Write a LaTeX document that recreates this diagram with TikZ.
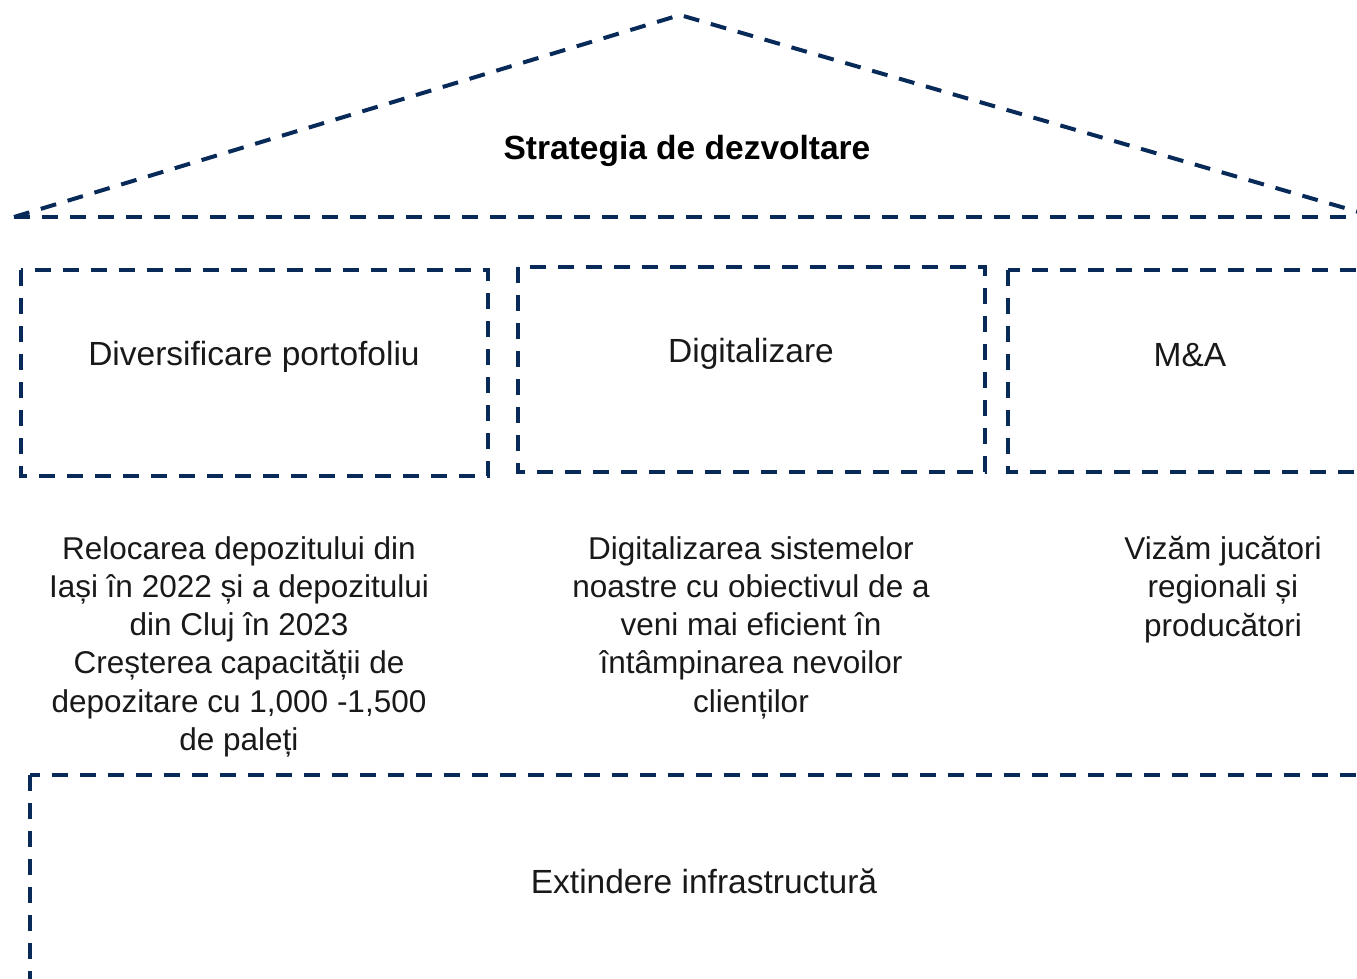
\documentclass[tikz,border=0pt]{standalone}
\usepackage{fontspec}
\setmainfont{Liberation Sans}
\definecolor{navy}{RGB}{8,42,88}
\definecolor{ink}{RGB}{25,25,25}
\begin{document}
\begin{tikzpicture}[x=1pt,y=-1pt,
  dline/.style={draw=navy,line width=4pt,dash pattern=on 16pt off 12pt},
  head/.style={font=\fontsize{33.5}{38}\selectfont,text=ink,inner sep=0pt},
  body/.style={font=\fontsize{31.5}{38.3}\selectfont,text=ink,align=center,inner sep=0pt},
  titlestyle/.style={font=\fontsize{33.5}{38}\selectfont\bfseries,text=black,inner sep=0pt}]
\useasboundingbox (0,0) rectangle (1357,979);
\clip (0,0) rectangle (1357,979);
% roof
\coordinate (rl) at (14,217);
\coordinate (apex) at (680,15);
\coordinate (rr) at (1362,213);
\coordinate (bl) at (14,217);
\coordinate (br) at (1362,217);
\draw[dline] (rl) -- (apex) -- (rr);
\draw[dline] (bl) -- (br);
\node[titlestyle] (title) at (687,151) {Strategia de dezvoltare};
% boxes
\draw[dline] (21,270) rectangle (488,476);
\draw[dline] (518,267) rectangle (985,472);
\draw[dline] (1008,270) rectangle (1400,472);
\draw[dline] (30,775) rectangle (1400,1020);
\node[head] (h1) at (254,357) {Diversificare portofoliu};
\node[head] (h2) at (751,354) {Digitalizare};
\node[head] (h3) at (1190,355) {M\&A};
\node[head] (h4) at (704,881) {Extindere infrastructură};
% bodies
\node[body,anchor=north] (b1) at (239,536) {Relocarea depozitului din\\Iași în 2022 și a depozitului\\din Cluj în 2023\\Creșterea capacității de\\depozitare cu 1,000 -1,500\\de paleți};
\node[body,anchor=north] (b2) at (751,536) {Digitalizarea sistemelor\\noastre cu obiectivul de a\\veni mai eficient în\\întâmpinarea nevoilor\\clienților};
\node[body,anchor=north] (b3) at (1223,536) {Vizăm jucători\\regionali și\\producători};
\end{tikzpicture}
\end{document}
